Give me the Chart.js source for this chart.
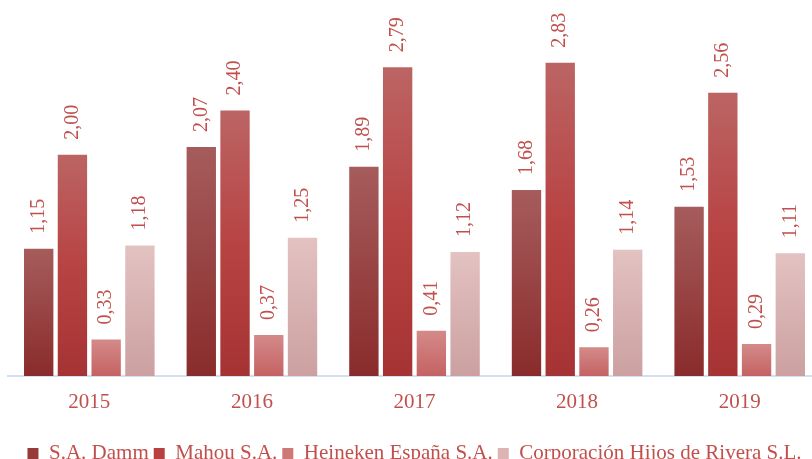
<!DOCTYPE html>
<html>
<head>
<meta charset="utf-8">
<script src="https://cdn.jsdelivr.net/npm/chart.js@4"></script>
<style>
    html, body { margin: 0; padding: 0; background: #fff; overflow: hidden; }
    #wrap { width: 812px; height: 459px; overflow: hidden; }
    #inner { position: relative; width: 822px; height: 474px; }
</style>
</head>
<body>
<div id="wrap"><div id="inner"><canvas id="ventasChart"></canvas></div></div>
<script>
const years = ['2015', '2016', '2017', '2018', '2019'];
const damm = [1.15, 2.07, 1.89, 1.68, 1.53];
const mahou = [2.00, 2.40, 2.79, 2.83, 2.56];
const heineken = [0.33, 0.37, 0.41, 0.26, 0.29];
const rivera = [1.18, 1.25, 1.12, 1.14, 1.11];

const seriesNames = ['S.A. Damm', 'Mahou S.A.', 'Heineken España S.A.', 'Corporación Hijos de Rivera S.L.'];

const serifFont = "'Liberation Serif', 'Times New Roman', serif";
const textRed = '#C0504D';

// gradient stops per series (top of bar -> base)
const gradients = [
    [[0, '#A65C5C'], [1, '#8A2B2B']],
    [[0, '#BC6464'], [0.5, '#B84343'], [1, '#A63333']],
    [[0, '#D48A8A'], [1, '#C56262']],
    [[0, '#E3C2C2'], [1, '#CCA0A0']]
];
const legendColors = ['#963A3A', '#B84040', '#CE7878', '#DDB4B4'];

function barGradient(seriesIndex) {
    return function(context) {
        const chart = context.chart;
        const yScale = chart.scales.y;
        if (!chart.chartArea || !yScale || context.parsed == null) return legendColors[seriesIndex];
        const top = yScale.getPixelForValue(context.parsed.y);
        const base = yScale.getPixelForValue(0);
        if (!isFinite(top) || !isFinite(base) || top === base) return legendColors[seriesIndex];
        const g = chart.ctx.createLinearGradient(0, top, 0, base);
        gradients[seriesIndex].forEach(s => g.addColorStop(s[0], s[1]));
        return g;
    };
}

// rotated value labels above each bar
const rotatedLabels = {
    id: 'rotatedLabels',
    afterDatasetsDraw(chart) {
        const ctx = chart.ctx;
        ctx.save();
        ctx.font = '20px ' + serifFont;
        ctx.fillStyle = textRed;
        ctx.textAlign = 'left';
        ctx.textBaseline = 'middle';
        chart.data.datasets.forEach((ds, i) => {
            const meta = chart.getDatasetMeta(i);
            meta.data.forEach((bar, j) => {
                const txt = ds.data[j].toFixed(2).replace('.', ',');
                ctx.save();
                ctx.translate(bar.x, bar.y - 15);
                ctx.rotate(-Math.PI / 2);
                ctx.fillText(txt, 0, 0);
                ctx.restore();
            });
        });
        ctx.restore();
    }
};

const allSeries = [damm, mahou, heineken, rivera];

new Chart(document.getElementById('ventasChart'), {
    type: 'bar',
    data: {
        labels: years,
        datasets: allSeries.map((values, i) => ({
            label: seriesNames[i],
            data: values,
            backgroundColor: barGradient(i),
            borderWidth: 0,
            categoryPercentage: 0.83,
            barPercentage: 0.87
        }))
    },
    options: {
        responsive: true,
        maintainAspectRatio: false,
        animation: false,
        layout: {
            padding: { left: 8, right: 1, top: 44, bottom: 0 }
        },
        plugins: {
            tooltip: { enabled: false },
            legend: {
                position: 'bottom',
                labels: {
                    boxWidth: 11,
                    boxHeight: 11,
                    padding: 5,
                    color: textRed,
                    font: { family: serifFont, size: 21 },
                    generateLabels: function(chart) {
                        return chart.data.datasets.map((ds, i) => ({
                            text: ds.label,
                            fillStyle: legendColors[i],
                            strokeStyle: legendColors[i],
                            lineWidth: 0,
                            fontColor: textRed,
                            datasetIndex: i
                        }));
                    }
                }
            }
        },
        scales: {
            x: {
                grid: { display: false, drawTicks: false },
                border: { display: true, color: '#D3E0F1', width: 2 },
                ticks: {
                    color: textRed,
                    padding: 14,
                    font: { family: serifFont, size: 21 }
                },
                afterFit: function(scale) {
                    scale.height = 62;
                }
            },
            y: {
                display: false,
                min: 0,
                max: 3
            }
        }
    },
    plugins: [rotatedLabels]
});
</script>
</body>
</html>
